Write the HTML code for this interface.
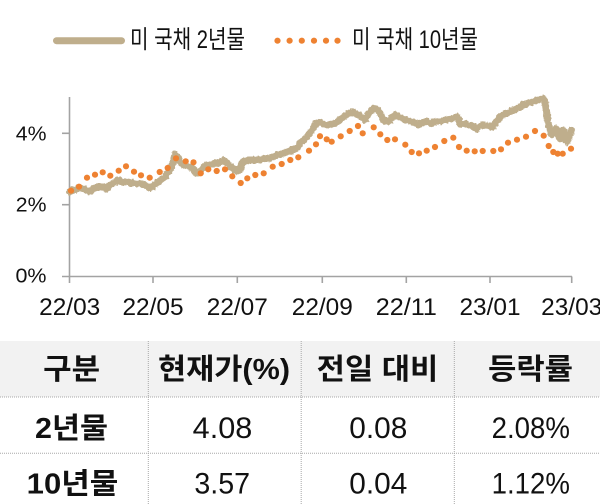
<!DOCTYPE html>
<html>
<head>
<meta charset="utf-8">
<style>
  html,body{margin:0;padding:0;background:#fff;}
  body{width:600px;height:504px;overflow:hidden;position:relative;}
  svg{position:absolute;left:0;top:0;}
  text{font-family:"Liberation Sans","Noto Sans CJK KR",sans-serif;fill:#111;}
</style>
</head>
<body>
<svg width="600" height="504" viewBox="0 0 600 504" xmlns="http://www.w3.org/2000/svg">
  <defs>
    <filter id="rough" x="-5%" y="-20%" width="110%" height="140%">
      <feTurbulence type="fractalNoise" baseFrequency="0.35" numOctaves="2" seed="3" result="n"/>
      <feDisplacementMap in="SourceGraphic" in2="n" scale="3.5" xChannelSelector="R" yChannelSelector="G"/>
    </filter>
  </defs>
  <!-- Legend -->
  <line x1="56.5" y1="40.7" x2="121.5" y2="40.7" stroke="#bfae8c" stroke-width="7" stroke-linecap="round"/>
  <text x="130" y="48" font-size="25" textLength="115" lengthAdjust="spacingAndGlyphs">미 국채 2년물</text>
  <g fill="#ee8232">
    <circle cx="277.5" cy="40.7" r="3.1"/>
    <circle cx="289.6" cy="40.7" r="3.1"/>
    <circle cx="301.8" cy="40.7" r="3.1"/>
    <circle cx="314" cy="40.7" r="3.1"/>
    <circle cx="326" cy="40.7" r="3.1"/>
    <circle cx="337.5" cy="40.7" r="3.1"/>
  </g>
  <text x="352" y="48" font-size="25" textLength="126" lengthAdjust="spacingAndGlyphs">미 국채 10년물</text>

  <!-- Axes -->
  <g stroke="#a3a3a3" stroke-width="1.6" fill="none">
    <line x1="69.5" y1="97" x2="69.5" y2="283"/>
    <line x1="62" y1="276.5" x2="572" y2="276.5"/>
    <line x1="62" y1="204.7" x2="69.5" y2="204.7"/>
    <line x1="62" y1="133.3" x2="69.5" y2="133.3"/>
    <line x1="153" y1="276.5" x2="153" y2="283"/>
    <line x1="237.3" y1="276.5" x2="237.3" y2="283"/>
    <line x1="322.3" y1="276.5" x2="322.3" y2="283"/>
    <line x1="406.3" y1="276.5" x2="406.3" y2="283"/>
    <line x1="490" y1="276.5" x2="490" y2="283"/>
    <line x1="571.7" y1="276.5" x2="571.7" y2="283"/>
  </g>

  <!-- Y labels -->
  <text x="46.5" y="140.3" font-size="20" text-anchor="end" textLength="30.7" lengthAdjust="spacingAndGlyphs">4%</text>
  <text x="46.5" y="211.6" font-size="20" text-anchor="end" textLength="30.7" lengthAdjust="spacingAndGlyphs">2%</text>
  <text x="46.5" y="282.3" font-size="20" text-anchor="end" textLength="31" lengthAdjust="spacingAndGlyphs">0%</text>

  <!-- X labels -->
  <g font-size="24" text-anchor="middle">
    <text x="69.7" y="315" textLength="61" lengthAdjust="spacingAndGlyphs">22/03</text>
    <text x="153" y="315" textLength="61" lengthAdjust="spacingAndGlyphs">22/05</text>
    <text x="237.3" y="315" textLength="61" lengthAdjust="spacingAndGlyphs">22/07</text>
    <text x="322.3" y="315" textLength="61" lengthAdjust="spacingAndGlyphs">22/09</text>
    <text x="406.3" y="315" textLength="61" lengthAdjust="spacingAndGlyphs">22/11</text>
    <text x="490" y="315" textLength="61" lengthAdjust="spacingAndGlyphs">23/01</text>
    <text x="571.7" y="315" textLength="61" lengthAdjust="spacingAndGlyphs">23/03</text>
  </g>

  <!-- 2Y series -->
  <polyline fill="none" stroke="#bfae8c" stroke-width="7" stroke-linejoin="round" stroke-linecap="round" filter="url(#rough)"
    points="69.5,192 72,190 75,190.5 78,188 84,189 87,190.5 90,191.7 93,189 95,188 98,186.7 103,187 106.7,189 110,185 114,183 118,180 122,182 126.7,181.7 131,183 135,183 140,184 145,185 150,188.3 153,186 156.7,183 161,180 165,177 170,170 173,162 175,154 178,158 180,163 184,165 188,166.7 192,167 196.7,173 200,172 203,168 206.7,165 211,164 216.7,163 220,162 223,160 227,163 230,166.7 233,168 236.7,171.7 240,169 243,161.7 248,160 253,160 258,160 262,159 266.7,158.3 271,158 276.7,155 281,154 286.7,151.7 290,151 293,150 297,148 300,143.3 304,140 308.3,135 312,130 316.7,123.3 320,122 324,124 328.3,125 331,124 335,123.3 338,121 341.7,118.3 346,115 351.7,111.7 355,113 358.3,115 362,118 365,120 369,113 373.3,108.3 378.3,110 381,115 383.3,120 388.3,121.7 392,118 395,115 398,116 401.7,118.3 406,120 411.7,121.7 415,123 418.3,125 421,123 425,121.7 428,122 431.7,123.3 435,122 438.3,121.7 442,121 445,120 450,118.7 456.7,117 459,120 460,123.7 465,124 470,125.3 474,127 476.7,128.7 480,126 483.3,125.3 488,126 493.3,127 496,122 500,117 505,114 510,112 516.7,108.7 521,106 526.7,103.7 531,102 536.7,100.3 540,99.5 543.3,98.7 545,102 546.7,112 548.3,123.7 550,130 551.7,135.3 554,131 556.7,128.7 558,134 560,138.7 562,133 563.3,130.3 565,137 566.7,142 569,136 571.7,130.3"/>

  <!-- 10Y series (dots) -->
  <g fill="#ee8232">
    <circle cx="71" cy="190.7" r="3.1"/><circle cx="79" cy="186.7" r="3.1"/><circle cx="87" cy="177.7" r="3.1"/><circle cx="95" cy="174.7" r="3.1"/>
    <circle cx="102.7" cy="172.3" r="3.1"/><circle cx="110.3" cy="175.7" r="3.1"/><circle cx="118.7" cy="170.7" r="3.1"/><circle cx="126" cy="166.3" r="3.1"/>
    <circle cx="134" cy="171.7" r="3.1"/><circle cx="141" cy="175.3" r="3.1"/><circle cx="149.7" cy="177.7" r="3.1"/><circle cx="159.7" cy="172" r="3.1"/>
    <circle cx="167.7" cy="168" r="3.1"/><circle cx="176" cy="158.3" r="3.1"/><circle cx="185.7" cy="161.3" r="3.1"/><circle cx="193.5" cy="162.3" r="3.1"/>
    <circle cx="200.7" cy="173.3" r="3.1"/><circle cx="208.3" cy="169.3" r="3.1"/><circle cx="216.7" cy="171" r="3.1"/><circle cx="225" cy="169.3" r="3.1"/>
    <circle cx="232.3" cy="176.3" r="3.1"/><circle cx="240.7" cy="183" r="3.1"/><circle cx="247.3" cy="178.3" r="3.1"/><circle cx="255.3" cy="175" r="3.1"/>
    <circle cx="263.7" cy="173.3" r="3.1"/><circle cx="272.7" cy="166.7" r="3.1"/><circle cx="281.7" cy="164" r="3.1"/><circle cx="290.3" cy="160" r="3.1"/>
    <circle cx="298.3" cy="157.3" r="3.1"/><circle cx="309" cy="150.7" r="3.1"/><circle cx="316" cy="144.3" r="3.1"/><circle cx="320" cy="136.2" r="3.1"/>
    <circle cx="326.7" cy="139.3" r="3.1"/><circle cx="331.7" cy="141.7" r="3.1"/><circle cx="340.7" cy="136.3" r="3.1"/><circle cx="349.7" cy="131" r="3.1"/>
    <circle cx="358" cy="126" r="3.1"/><circle cx="362.7" cy="133.3" r="3.1"/><circle cx="373.7" cy="127.3" r="3.1"/><circle cx="380.3" cy="134.3" r="3.1"/>
    <circle cx="387.3" cy="140" r="3.1"/><circle cx="395" cy="139.3" r="3.1"/><circle cx="405.3" cy="144.7" r="3.1"/><circle cx="411.7" cy="152" r="3.1"/>
    <circle cx="419" cy="153.3" r="3.1"/><circle cx="426.7" cy="150.7" r="3.1"/><circle cx="435" cy="147" r="3.1"/><circle cx="444.3" cy="141" r="3.1"/>
    <circle cx="453.3" cy="137.7" r="3.1"/><circle cx="459" cy="147" r="3.1"/><circle cx="466.7" cy="150.7" r="3.1"/><circle cx="474.7" cy="151.3" r="3.1"/>
    <circle cx="482.7" cy="151" r="3.1"/><circle cx="493.3" cy="151" r="3.1"/><circle cx="501" cy="149.3" r="3.1"/><circle cx="508" cy="142.7" r="3.1"/>
    <circle cx="517" cy="139.7" r="3.1"/><circle cx="526" cy="136.7" r="3.1"/><circle cx="535" cy="131" r="3.1"/><circle cx="543.7" cy="135.7" r="3.1"/>
    <circle cx="548.7" cy="146" r="3.1"/><circle cx="553.3" cy="152" r="3.1"/><circle cx="557.7" cy="153.7" r="3.1"/><circle cx="562.7" cy="153.7" r="3.1"/>
    <circle cx="571" cy="148.7" r="3.1"/>
  </g>

  <!-- Table -->
  <rect x="0" y="341" width="600" height="56" fill="#f2f2f2"/>
  <g stroke="#a8a8a8" stroke-width="1" stroke-dasharray="1 1" fill="none">
    <line x1="0" y1="397" x2="600" y2="397"/>
    <line x1="0" y1="453.3" x2="600" y2="453.3"/>
    <line x1="148.3" y1="341" x2="148.3" y2="504"/>
    <line x1="301.2" y1="341" x2="301.2" y2="504"/>
    <line x1="454.3" y1="341" x2="454.3" y2="504"/>
  </g>

  <g font-size="29" font-weight="bold" text-anchor="middle">
    <text x="71.7" y="379" textLength="57" lengthAdjust="spacingAndGlyphs">구분</text>
    <text x="224" y="379" textLength="132" lengthAdjust="spacingAndGlyphs">현재가(%)</text>
    <text x="377.5" y="379" textLength="121.6" lengthAdjust="spacingAndGlyphs">전일 대비</text>
    <text x="530.5" y="379" textLength="85" lengthAdjust="spacingAndGlyphs">등락률</text>
    <text x="71.5" y="437.8" textLength="73" lengthAdjust="spacingAndGlyphs">2년물</text>
    <text x="72.5" y="493.5" textLength="91.6" lengthAdjust="spacingAndGlyphs">10년물</text>
  </g>
  <g font-size="30" text-anchor="middle">
    <text x="222.5" y="437.8" textLength="59.6" lengthAdjust="spacingAndGlyphs">4.08</text>
    <text x="378.3" y="437.8" textLength="58" lengthAdjust="spacingAndGlyphs">0.08</text>
    <text x="530.8" y="437.8" textLength="78.3" lengthAdjust="spacingAndGlyphs">2.08%</text>
    <text x="222.2" y="493.5" textLength="55.7" lengthAdjust="spacingAndGlyphs">3.57</text>
    <text x="378.3" y="493.5" textLength="58" lengthAdjust="spacingAndGlyphs">0.04</text>
    <text x="530.8" y="493.5" textLength="78.3" lengthAdjust="spacingAndGlyphs">1.12%</text>
  </g>
</svg>
</body>
</html>
